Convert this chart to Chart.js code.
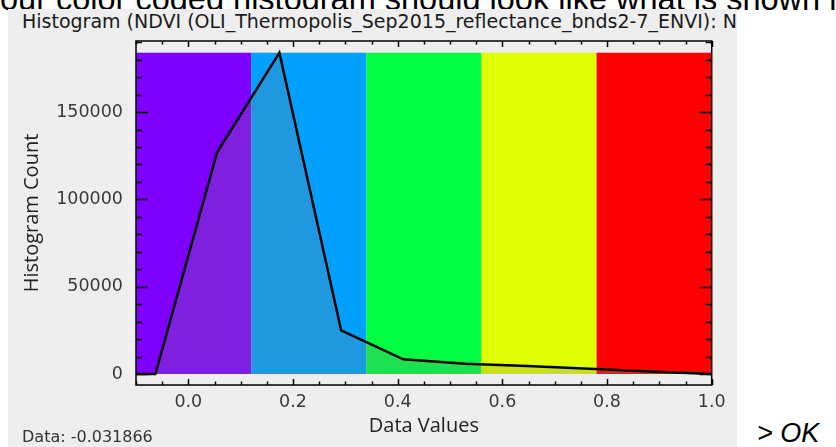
<!DOCTYPE html>
<html>
<head>
<meta charset="utf-8">
<script src="https://cdn.jsdelivr.net/npm/chart.js@4.4.1/dist/chart.umd.min.js"></script>
<style>
  html, body { margin: 0; padding: 0; background: #fff; width: 836px; height: 447px; overflow: hidden; }
  body { position: relative; }
  .note { position: absolute; left: 0; top: -17.5px; font: 32.5px/32.5px "Liberation Sans", Arial, sans-serif; color: #000; white-space: nowrap; }
  .panel { position: absolute; left: 8px; top: 9px; width: 729px; height: 438px; background: #eeeeee; overflow: hidden; z-index: 1; }
  .panel canvas { position: absolute; left: 0; top: 0; }
  .title { position: absolute; left: 14px; top: 3.2px; font: 19px/19px "DejaVu Sans", sans-serif; color: #1a1a1a; white-space: nowrap; }
  .readout { position: absolute; left: 14px; top: 419.5px; font: 16px/16px "DejaVu Sans", sans-serif; color: #333; white-space: nowrap; }
  .ok { position: absolute; left: 757px; top: 420px; font: italic 27px/27px "Liberation Sans", Arial, sans-serif; color: #000; }
</style>
</head>
<body>
<div class="note">our color coded histogram should look like what is shown in</div>
<div class="panel">
  <div class="title">Histogram (NDVI (OLI_Thermopolis_Sep2015_reflectance_bnds2-7_ENVI): NDVI)</div>
  <canvas id="hist" width="729" height="438"></canvas>
  <div class="readout">Data: -0.031866</div>
</div>
<div class="ok">&gt; OK</div>
<script>
  // histogram of NDVI values
  var HIST_X     = [-0.1, -0.063, 0.055, 0.174, 0.292, 0.411, 0.530, 0.648, 0.767, 0.885, 1.0];
  var HIST_COUNT = [0, 0, 127000, 184000, 25000, 8400, 5900, 4600, 3000, 1400, 0];

  // colour ramp behind the curve
  var BAND_EDGES  = [-0.1, 0.12, 0.34, 0.56, 0.78, 1.0];
  var BAND_COLORS = ['#8000ff', '#00a0ff', '#00ff40', '#e0ff00', '#ff0000'];
  var BAND_TOP    = 184000;

  var X_TICKS = [0.0, 0.2, 0.4, 0.6, 0.8, 1.0];
  var Y_TICKS = [0, 50000, 100000, 150000];
  var X_MINOR = 0.05, Y_MINOR = 10000;
  var X_MIN = -0.1, X_MAX = 1.0, Y_MIN = -6300, Y_MAX = 190700;

  var TICK_FONT = { family: 'DejaVu Sans', size: 17.5 };
  var TICK_COLOR = '#3a3a3a';

  // colour bands, drawn under the curve
  var bandsPlugin = {
    id: 'bands',
    beforeDatasetsDraw: function (chart) {
      var ctx = chart.ctx, xs = chart.scales.x, ys = chart.scales.y;
      var y0 = ys.getPixelForValue(0), y1 = ys.getPixelForValue(BAND_TOP);
      ctx.save();
      for (var i = 0; i < BAND_COLORS.length; i++) {
        var a = xs.getPixelForValue(BAND_EDGES[i]), b = xs.getPixelForValue(BAND_EDGES[i + 1]);
        ctx.fillStyle = BAND_COLORS[i];
        ctx.fillRect(a, y1, b - a, y0 - y1);
      }
      ctx.restore();
    }
  };

  // box frame with inward ticks on all four sides
  var framePlugin = {
    id: 'frame',
    afterDatasetsDraw: function (chart) {
      var ctx = chart.ctx, a = chart.chartArea, xs = chart.scales.x, ys = chart.scales.y;
      ctx.save();
      ctx.strokeStyle = '#000';
      ctx.lineWidth = 1.5;
      ctx.beginPath();
      var v, p, len;
      for (v = 0; v <= Y_MAX + 1; v += Y_MINOR) {
        p = Math.round(ys.getPixelForValue(v)) + 0.5;
        len = Y_TICKS.indexOf(v) >= 0 ? 12 : 6;
        ctx.moveTo(a.left, p); ctx.lineTo(a.left + len, p);
        ctx.moveTo(a.right, p); ctx.lineTo(a.right - len, p);
      }
      for (var k = 0; X_MIN + k * X_MINOR <= X_MAX + 1e-9; k++) {
        v = Math.round((X_MIN + k * X_MINOR) * 100) / 100;
        p = Math.round(xs.getPixelForValue(v)) + 0.5;
        len = X_TICKS.indexOf(v) >= 0 ? 6 : 3.5;
        ctx.moveTo(p, a.bottom); ctx.lineTo(p, a.bottom - len);
        ctx.moveTo(p, a.top); ctx.lineTo(p, a.top + len);
      }
      ctx.stroke();
      ctx.strokeRect(a.left, a.top, a.right - a.left, a.bottom - a.top);
      ctx.restore();
    }
  };

  var points = HIST_X.map(function (x, i) { return { x: x, y: HIST_COUNT[i] }; });

  new Chart(document.getElementById('hist').getContext('2d'), {
    type: 'line',
    data: {
      datasets: [{
        data: points,
        borderColor: '#000',
        borderWidth: 2.5,
        backgroundColor: 'rgba(128,128,128,0.25)',
        fill: 'origin',
        pointRadius: 0,
        tension: 0,
      }]
    },
    plugins: [bandsPlugin, framePlugin],
    options: {
      responsive: false,
      animation: false,
      layout: { padding: { left: 14, right: 25.3, top: 32, bottom: 0 } },
      plugins: {
        legend: { display: false },
        tooltip: { enabled: false },
        title: { display: false },
      },
      scales: {
        x: {
          type: 'linear', min: X_MIN, max: X_MAX,
          grid: { display: false, drawTicks: false }, border: { display: false },
          afterBuildTicks: function (s) { s.ticks = X_TICKS.map(function (v) { return { value: v }; }); },
          ticks: { callback: function (v) { return v.toFixed(1); }, font: TICK_FONT, color: TICK_COLOR, padding: 7, maxRotation: 0, autoSkip: false },
          title: { display: true, text: 'Data Values', font: { family: 'Open Sans', size: 20, lineHeight: 1 }, color: '#222', padding: { top: 0, bottom: 10.3 } },
          afterFit: function (s) { s.height = 62; },
        },
        y: {
          min: Y_MIN, max: Y_MAX,
          grid: { display: false, drawTicks: false }, border: { display: false },
          afterBuildTicks: function (s) { s.ticks = Y_TICKS.map(function (v) { return { value: v }; }); },
          ticks: { callback: function (v) { return String(v); }, font: TICK_FONT, color: TICK_COLOR, padding: 13, autoSkip: false },
          title: { display: true, text: 'Histogram Count', font: { family: 'Open Sans', size: 20, lineHeight: 1 }, color: '#222', padding: { top: 0, bottom: 0 } },
          afterFit: function (s) { s.width = 114; },
        },
      },
    },
  });
</script>
</body>
</html>
